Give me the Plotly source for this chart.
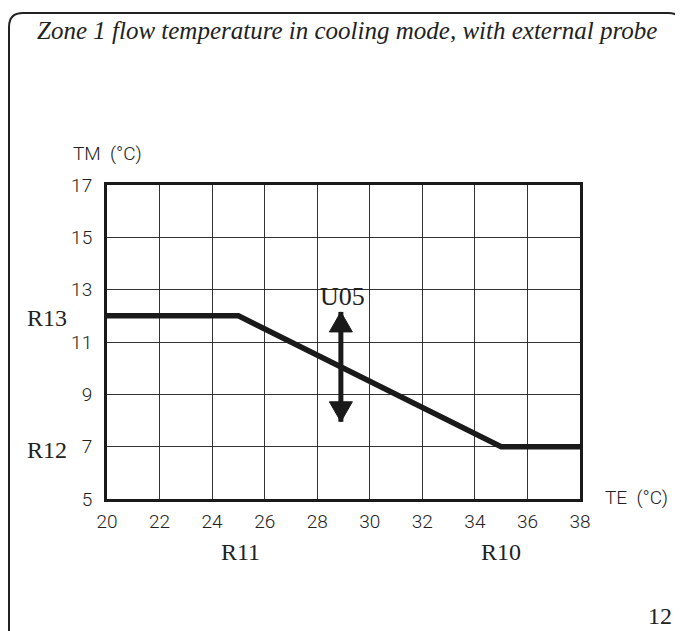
import plotly.graph_objects as go

# Data
te = [20, 25, 35, 38]
tm = [12, 12, 7, 7]
x_ticks = [20, 22, 24, 26, 28, 30, 32, 34, 36, 38]
y_ticks = [5, 7, 9, 11, 13, 15, 17]
u05_x = 28.9
u05_top = 12.15
u05_bottom = 7.95

OFF = 8  # page body margin
W, H = 683 - OFF, 631 - OFF
# plot area in screen pixels
SX0, SX1, SY0, SY1 = 107, 580, 185, 499
L, R, T, B = SX0 - OFF, W - (SX1 - OFF), SY0 - OFF, H - (SY1 - OFF)
PW, PH = SX1 - SX0, SY1 - SY0


def px(x):
    return (x - SX0) / PW


def py(y):
    return (SY1 - y) / PH


fig = go.Figure()
fig.add_trace(go.Scatter(x=te, y=tm, mode="lines",
                         line=dict(color="#1a1a1a", width=5.5), hoverinfo="skip"))

tickfont = dict(family="Roboto", size=19, color="#222", weight=300)

fig.update_layout(
    width=W, height=H, autosize=False,
    margin=dict(l=L, r=R, t=T, b=B),
    paper_bgcolor="white", plot_bgcolor="white",
    showlegend=False,
    xaxis=dict(range=[20, 38], tickvals=x_ticks, ticktext=[str(v) for v in x_ticks],
               showgrid=True, gridcolor="#333", gridwidth=1.3, zeroline=False,
               showline=True, linecolor="#1a1a1a", linewidth=3, mirror=True,
               ticks="", tickfont=tickfont, ticklabelstandoff=3),
    yaxis=dict(range=[5, 17], tickvals=y_ticks, ticktext=[str(v) for v in y_ticks],
               showgrid=True, gridcolor="#333", gridwidth=1.3, zeroline=False,
               showline=True, linecolor="#1a1a1a", linewidth=3, mirror=True,
               ticks="", tickfont=tickfont, ticklabelstandoff=8),
)

# Frame (rounded box, open at bottom)
r = 14
x0, x1, y0, y1 = 9, 682, 13, 660
path = (f"M {px(x0)} {py(y1)} L {px(x0)} {py(y0 + r)} "
        f"Q {px(x0)} {py(y0)} {px(x0 + r)} {py(y0)} "
        f"L {px(x1 - r)} {py(y0)} Q {px(x1)} {py(y0)} {px(x1)} {py(y0 + r)} "
        f"L {px(x1)} {py(y1)}")
fig.add_shape(type="path", path=path, xref="paper", yref="paper",
              line=dict(color="#222", width=2))

serif = "Liberation Serif"
sfont = dict(family=serif, size=24, color="#222")
annos = [
    dict(text="<i>Zone 1 flow temperature in cooling mode, with external probe</i>",
         x=px(347), y=py(30), font=dict(family=serif, size=25, color="#222")),
    dict(text="TM  (°C)", x=px(107), y=py(154), font=tickfont),
    dict(text="TE  (°C)", x=px(636), y=py(497), font=tickfont),
    dict(text="R13", x=px(47), y=py(318), font=sfont),
    dict(text="R12", x=px(47), y=py(450), font=sfont),
    dict(text="R11", x=px(240), y=py(552), font=sfont),
    dict(text="R10", x=px(501), y=py(552), font=sfont),
    dict(text="12", x=px(660), y=py(616), font=sfont),
]
for a in annos:
    fig.add_annotation(xref="paper", yref="paper", showarrow=False,
                       xanchor="center", yanchor="middle", **a)

fig.add_annotation(x=u05_x, y=u05_top, xref="x", yref="y", text="U05",
                   yanchor="bottom", yshift=-1, xshift=2, showarrow=False,
                   font=dict(family=serif, size=26, color="#222"))

# double-headed arrow: shaft + two heads
fig.add_shape(type="line", xref="x", yref="y", x0=u05_x, x1=u05_x,
              y0=u05_bottom, y1=u05_top, line=dict(color="#1a1a1a", width=5))
for yv, sgn in [(u05_top, 1), (u05_bottom, -1)]:
    fig.add_shape(type="path", xref="x", yref="y",
                  xsizemode="pixel", ysizemode="pixel",
                  xanchor=u05_x, yanchor=yv,
                  path=f"M -11.5 {-20 * sgn} L 11.5 {-20 * sgn} L 0 0 Z",
                  fillcolor="#1a1a1a", line=dict(color="#1a1a1a", width=1))

fig.write_html("out.html")
